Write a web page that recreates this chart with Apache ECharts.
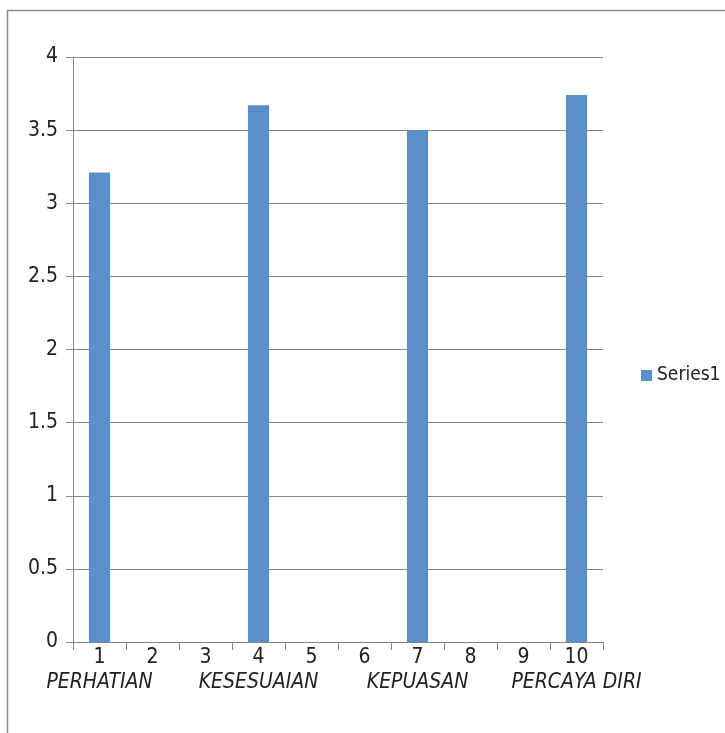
<!DOCTYPE html>
<html>
<head>
<meta charset="utf-8">
<script src="https://cdn.jsdelivr.net/npm/echarts@6/dist/echarts.min.js"></script>
<style>
html,body{margin:0;padding:0;background:#fff;}
#c{width:725px;height:733px;}
</style>
</head>
<body>
<div id="c"></div>
<script>
const categories = ['1','2','3','4','5','6','7','8','9','10'];
const groupLabels = ['PERHATIAN','','','KESESUAIAN','','','KEPUASAN','','','PERCAYA DIRI'];
const series1 = [3.21, null, null, 3.67, null, null, 3.5, null, null, 3.74];
const yTicks = [0, 0.5, 1, 1.5, 2, 2.5, 3, 3.5, 4];

const FONT = "'Liberation Sans Narrow','DejaVu Sans Condensed',sans-serif";
const chart = echarts.init(document.getElementById('c'));
chart.setOption({
  animation: false,
  graphic: [{
    type: 'rect', shape: {x: 7.5, y: 10.5, width: 740, height: 740},
    style: {fill: 'none', stroke: '#8c8c8c', lineWidth: 1.5}, z: -1
  }],
  legend: {
    show: true, left: 636, top: 361, orient: 'vertical',
    icon: 'rect', itemWidth: 11, itemHeight: 11, itemGap: 6,
    textStyle: {fontFamily: FONT, fontSize: 19, color: '#222'},
    data: ['Series1']
  },
  grid: {left: 73, top: 57, right: 122, bottom: 91, containLabel: false},
  xAxis: {
    type: 'category', data: categories,
    axisLine: {lineStyle: {color: '#868686', width: 1}},
    axisTick: {show: true, length: 8, alignWithLabel: false, interval: 0, lineStyle: {color: '#868686'}},
    axisLabel: {
      interval: 0, margin: 4,
      formatter: function (v, i) {
        return '{n|' + v + '}\n{i|' + (groupLabels[i] || ' ') + '}';
      },
      rich: {
        n: {fontFamily: FONT, fontSize: 21, color: '#222', lineHeight: 24},
        i: {fontFamily: FONT, fontSize: 21, fontStyle: 'italic', color: '#222', lineHeight: 26}
      }
    },
    splitLine: {show: false}
  },
  yAxis: {
    type: 'value', min: yTicks[0], max: yTicks[yTicks.length - 1], interval: 0.5,
    axisLine: {show: true, lineStyle: {color: '#868686', width: 1}},
    axisTick: {show: true, length: 7, lineStyle: {color: '#868686'}},
    axisLabel: {margin: 15, fontFamily: FONT, fontSize: 21, color: '#222'},
    splitLine: {show: true, lineStyle: {color: '#868686', width: 1}}
  },
  series: [{
    name: 'Series1', type: 'bar', data: series1,
    barWidth: '40%',
    itemStyle: {color: '#5b8fc9'}
  }]
});
</script>
</body>
</html>
